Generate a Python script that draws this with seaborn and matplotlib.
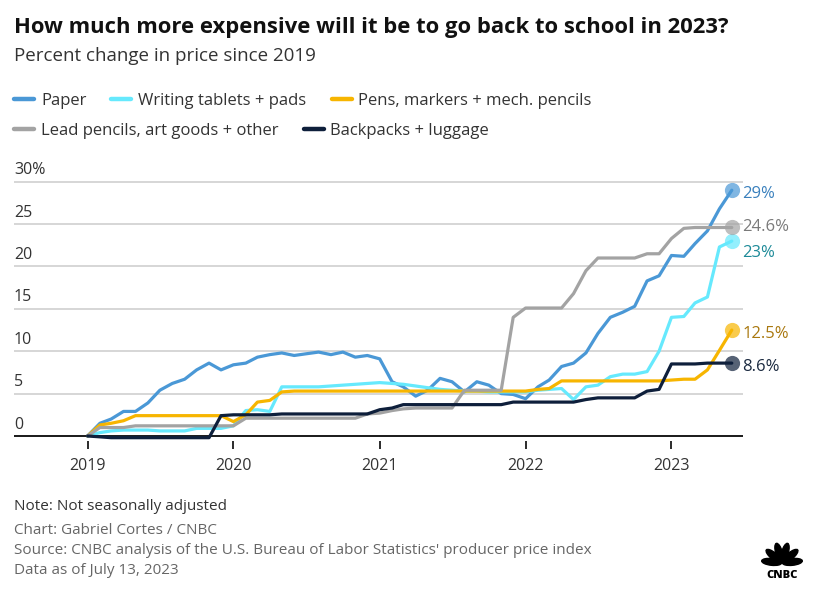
import numpy as np
import pandas as pd
import matplotlib as mpl
mpl.use('Agg')
import matplotlib.pyplot as plt
from matplotlib.lines import Line2D
from matplotlib.patches import Ellipse
import seaborn as sns

# monthly data, Jan 2019 - Jun 2023, percent change since Jan 2019
months = pd.date_range('2019-01-01', periods=54, freq='MS')

paper = [0, 1.5, 2.0, 2.9, 2.9, 3.9, 5.4, 6.2, 6.7, 7.8,
         8.6, 7.8, 8.4, 8.6, 9.3, 9.6, 9.8, 9.5, 9.7, 9.9,
         9.6, 9.9, 9.3, 9.5, 9.1, 6.4, 5.8, 4.7, 5.4, 6.8,
         6.4, 5.2, 6.4, 6.0, 5.0, 4.9, 4.4, 5.8, 6.6, 8.2,
         8.6, 9.8, 12.1, 14.0, 14.6, 15.3, 18.3, 18.9, 21.3, 21.2,
         22.7, 24.2, 26.8, 29.0]
tablets = [0, 0.4, 0.6, 0.7, 0.7, 0.7, 0.6, 0.6, 0.6, 0.9,
           0.9, 0.9, 1.2, 3.0, 3.1, 2.9, 5.8, 5.8, 5.8, 5.8,
           5.9, 6.0, 6.1, 6.2, 6.3, 6.2, 6.1, 5.9, 5.7, 5.5,
           5.4, 5.3, 5.3, 5.2, 5.2, 5.2, 5.2, 5.4, 5.5, 5.6,
           4.3, 5.8, 6.0, 7.0, 7.3, 7.3, 7.6, 10.0, 14.0, 14.1,
           15.7, 16.4, 22.3, 23.0]
pens = [0, 1.3, 1.5, 1.8, 2.4, 2.4, 2.4, 2.4, 2.4, 2.4,
        2.4, 2.4, 1.7, 2.5, 4.0, 4.2, 5.2, 5.3, 5.3, 5.3,
        5.3, 5.3, 5.3, 5.3, 5.3, 5.3, 5.3, 5.3, 5.3, 5.3,
        5.3, 5.3, 5.3, 5.3, 5.3, 5.3, 5.3, 5.5, 5.6, 6.5,
        6.5, 6.5, 6.5, 6.5, 6.5, 6.5, 6.5, 6.5, 6.6, 6.7,
        6.7, 7.8, 10.1, 12.5]
lead = [0, 1.0, 1.0, 1.0, 1.2, 1.2, 1.2, 1.2, 1.2, 1.2,
        1.2, 1.2, 1.2, 2.1, 2.1, 2.1, 2.1, 2.1, 2.1, 2.1,
        2.1, 2.1, 2.1, 2.6, 2.7, 3.0, 3.2, 3.3, 3.3, 3.3,
        3.3, 5.4, 5.4, 5.4, 5.4, 14.0, 15.1, 15.1, 15.1, 15.1,
        16.8, 19.5, 21.0, 21.0, 21.0, 21.0, 21.5, 21.5, 23.3, 24.5,
        24.6, 24.6, 24.6, 24.6]
backpacks = [0, -0.1, -0.2, -0.2, -0.2, -0.2, -0.2, -0.2, -0.2, -0.2,
             -0.2, 2.4, 2.5, 2.5, 2.5, 2.5, 2.6, 2.6, 2.6, 2.6,
             2.6, 2.6, 2.6, 2.6, 3.1, 3.3, 3.7, 3.7, 3.7, 3.7,
             3.7, 3.7, 3.7, 3.7, 3.7, 4.0, 4.0, 4.0, 4.0, 4.0,
             4.0, 4.3, 4.5, 4.5, 4.5, 4.5, 5.3, 5.5, 8.5, 8.5,
             8.5, 8.6, 8.6, 8.6]

series_names = ['Paper', 'Writing tablets + pads', 'Pens, markers + mech. pencils',
                'Lead pencils, art goods + other', 'Backpacks + luggage']
series_values = [paper, tablets, pens, lead, backpacks]
end_labels = ['29%', '23%', '12.5%', '24.6%', '8.6%']
year_labels = ['2019', '2020', '2021', '2022', '2023']
y_ticks = [0, 5, 10, 15, 20, 25, 30]

colors = ['#4a98d6', '#66e9fd', '#f7b500', '#a3a3a3', '#0e1f3b']
label_colors = ['#3a80bd', '#1d8a98', '#a9780f', '#7a7a7a', '#1b2a40']
label_nudge = [-2.5, -8.5, -2.5, 0, -3]   # points, keeps end labels apart

df = pd.concat([pd.DataFrame({'month': months, 'value': v, 'series': n})
                for n, v in zip(series_names, series_values)])

sns.set_theme(style='white')
plt.rcParams['font.family'] = ['Open Sans', 'DejaVu Sans']

fig = plt.figure(figsize=(8.2, 5.9), dpi=100)
ax = fig.add_axes([14 / 820, 0.2524, 729 / 820, 0.4439])

sns.lineplot(data=df, x='month', y='value', hue='series', hue_order=series_names,
             palette=dict(zip(series_names, colors)), linewidth=2.3, legend=False,
             ax=ax, zorder=3)

for v, c, lab, lc, dy in zip(series_values, colors, end_labels, label_colors, label_nudge):
    ax.scatter(months[-1], v[-1], s=120, color=c, alpha=0.7, linewidth=0,
               zorder=5, clip_on=False)
    ax.annotate(lab, xy=(months[-1], v[-1]), xytext=(7.5, dy), textcoords='offset points',
                va='center', ha='left', color=lc, fontsize=12)

ax.set_xlim(pd.Timestamp('2018-07-01'), pd.Timestamp('2023-06-29'))
ax.set_ylim(-0.6, 30.3)
ax.set_yticks(y_ticks)
ax.set_yticklabels([])
ax.tick_params(axis='y', length=0)
ax.yaxis.grid(True, color='#d0d0d0', linewidth=1.2)
ax.set_axisbelow(True)
ax.axhline(0, color='#1a1a1a', linewidth=1.4, zorder=2)

ax.set_xticks([pd.Timestamp(y + '-01-01') for y in year_labels])
ax.set_xticklabels(year_labels)
ax.tick_params(axis='x', length=6, width=1.3, color='#1a1a1a', pad=6,
               labelsize=11.5, labelcolor='#333333', bottom=True)
ax.set_xlabel('')
ax.set_ylabel('')
for s in ax.spines.values():
    s.set_visible(False)

for t in y_ticks:
    lab = '30%' if t == 30 else str(t)
    ax.annotate(lab, xy=(0, t), xycoords=('axes fraction', 'data'),
                xytext=(0, 2.5), textcoords='offset points',
                ha='left', va='bottom', fontsize=11.5, color='#333333')

# legend, two rows
def handle(c):
    return Line2D([], [], color=c, linewidth=3.2)

leg_kw = dict(loc='center left', frameon=False, fontsize=12, handlelength=1.2,
              handletextpad=0.42, columnspacing=1.5, borderpad=0, borderaxespad=0)
leg1 = fig.legend([handle(c) for c in colors[:3]], series_names[:3], ncol=3,
                  bbox_to_anchor=(14 / 820, 1 - 101 / 590), **leg_kw)
leg2 = fig.legend([handle(c) for c in colors[3:]], series_names[3:], ncol=2,
                  bbox_to_anchor=(14 / 820, 1 - 131 / 590), **leg_kw)
for lg in (leg1, leg2):
    for t in lg.get_texts():
        t.set_color('#333333')

fig.text(14 / 820, 1 - 27 / 590, 'How much more expensive will it be to go back to school in 2023?',
         fontsize=15.8, fontweight='bold', color='#111111', va='center', ha='left')
fig.text(14 / 820, 1 - 56 / 590, 'Percent change in price since 2019',
         fontsize=13.5, color='#333333', va='center', ha='left')

fig.text(14 / 820, 1 - 506 / 590, 'Note: Not seasonally adjusted',
         fontsize=11, color='#333333', va='center')
footer = ['Chart: Gabriel Cortes / CNBC',
          "Source: CNBC analysis of the U.S. Bureau of Labor Statistics' producer price index",
          'Data as of July 13, 2023']
for i, line in enumerate(footer):
    fig.text(14 / 820, 1 - (531 + 20 * i) / 590, line, fontsize=11,
             color='#666666', va='center')

# small peacock mark
lax = fig.add_axes([757 / 820, 1 - 581 / 590, 50 / 820, 40 / 590])
lax.set_xlim(-1.25, 1.25)
lax.set_ylim(-0.85, 1.15)
lax.axis('off')
for ang in [6, 40, 74, 106, 140, 174]:
    r = np.deg2rad(ang)
    lax.add_patch(Ellipse((0.52 * np.cos(r), 0.52 * np.sin(r) + 0.05), 0.34, 1.0,
                          angle=ang - 90, color='black'))
lax.text(0, -0.55, 'CNBC', ha='center', va='center', fontsize=8,
         fontweight='heavy', color='black')

fig.savefig('out.png', dpi=100)
